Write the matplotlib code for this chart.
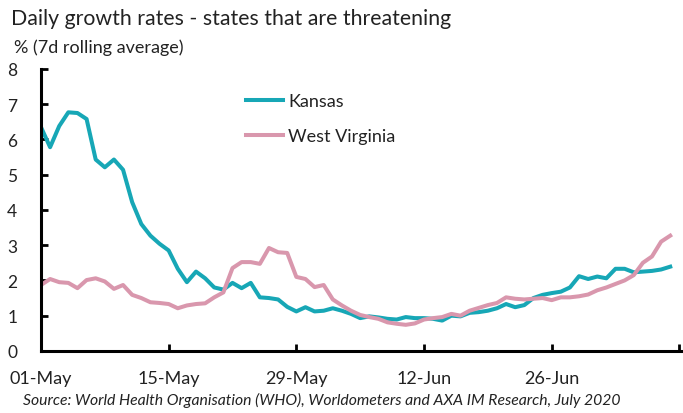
import matplotlib
matplotlib.use("Agg")
import matplotlib.pyplot as plt
import numpy as np
import pandas as pd

plt.rcParams['font.family'] = ['Lato', 'DejaVu Sans']

# Daily growth rates (%), 7-day rolling average, from 1 May 2020
kansas = [6.35, 5.78, 6.38, 6.77, 6.75, 6.58, 5.43, 5.21, 5.43, 5.14,
          4.22, 3.60, 3.27, 3.04, 2.85, 2.33, 1.95, 2.25, 2.06, 1.80,
          1.74, 1.93, 1.78, 1.93, 1.52, 1.50, 1.46, 1.25, 1.12, 1.24,
          1.12, 1.14, 1.21, 1.14, 1.05, 0.93, 0.98, 0.95, 0.91, 0.89,
          0.96, 0.93, 0.93, 0.91, 0.86, 1.00, 0.98, 1.08, 1.10, 1.14,
          1.21, 1.33, 1.24, 1.30, 1.50, 1.59, 1.64, 1.68, 1.80, 2.12,
          2.04, 2.11, 2.06, 2.33, 2.33, 2.23, 2.25, 2.27, 2.31, 2.39]
west_virginia = [1.87, 2.04, 1.95, 1.93, 1.78, 2.01, 2.06, 1.97, 1.76, 1.87,
                 1.59, 1.50, 1.38, 1.36, 1.33, 1.21, 1.29, 1.33, 1.35, 1.52,
                 1.66, 2.35, 2.52, 2.52, 2.47, 2.92, 2.80, 2.78, 2.10, 2.04,
                 1.81, 1.87, 1.46, 1.29, 1.14, 1.02, 0.96, 0.91, 0.81, 0.77,
                 0.74, 0.78, 0.89, 0.93, 0.96, 1.05, 1.00, 1.14, 1.22, 1.30,
                 1.36, 1.52, 1.48, 1.46, 1.48, 1.50, 1.44, 1.52, 1.52, 1.55,
                 1.60, 1.72, 1.80, 1.90, 2.00, 2.15, 2.50, 2.68, 3.10, 3.27]
start = pd.Timestamp("2020-05-01")
tick_dates = pd.date_range("2020-05-01", "2020-07-10", freq="14D")
tick_labels = ["01-May", "15-May", "29-May", "12-Jun", "26-Jun", ""]
y_ticks = [0, 1, 2, 3, 4, 5, 6, 7, 8]

days = np.arange(len(kansas))
tick_pos = [(d - start).days for d in tick_dates]

fig = plt.figure(figsize=(6.83, 4.14), dpi=100)
ax = fig.add_axes([0.060, 0.150, 0.940, 0.681])

teal = "#17a7b6"
pink = "#d997ad"
ax.plot(days, kansas, color=teal, lw=2.9, label="Kansas", solid_joinstyle="round")
ax.plot(days, west_virginia, color=pink, lw=2.9, label="West Virginia", solid_joinstyle="round")

ax.set_xlim(0, tick_pos[-1] + 0.4)
ax.set_ylim(0, 8)
ax.set_yticks(y_ticks)
ax.set_xticks(tick_pos)
ax.set_xticklabels(tick_labels)

for side in ("top", "right"):
    ax.spines[side].set_visible(False)
for side in ("left", "bottom"):
    ax.spines[side].set_linewidth(2.2)
    ax.spines[side].set_color("black")
    ax.spines[side].set_capstyle("projecting")

ax.tick_params(axis="both", direction="in", length=5, width=2, colors="black",
               labelsize=13, labelcolor="#222222")
ax.tick_params(axis="y", labelsize=12.5, pad=17)
ax.tick_params(axis="x", pad=14)

leg = ax.legend(loc="upper left", bbox_to_anchor=(0.349, 0.79), bbox_transform=fig.transFigure,
                frameon=False, fontsize=13, handlelength=2.05, handletextpad=0.3,
                labelspacing=1.05, borderaxespad=0)
for t in leg.get_texts():
    t.set_color("#222222")

fig.text(0.016, 0.955, "Daily growth rates - states that are threatening",
         fontsize=15.3, color="#222222", va="center", ha="left")
fig.text(0.020, 0.885, "% (7d rolling average)", fontsize=13, color="#222222",
         va="center", ha="left")
fig.text(0.033, 0.033, "Source: World Health Organisation (WHO), Worldometers and AXA IM Research, July 2020",
         fontsize=11.3, style="italic", color="#222222", va="center", ha="left")

fig.savefig("out.png", dpi=100)
